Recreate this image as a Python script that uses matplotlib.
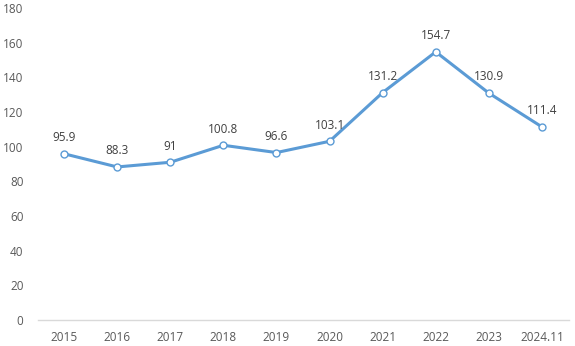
import matplotlib.pyplot as plt

# Series values
years = ['2015', '2016', '2017', '2018', '2019', '2020', '2021', '2022', '2023', '2024.11']
values = [95.9, 88.3, 91, 100.8, 96.6, 103.1, 131.2, 154.7, 130.9, 111.4]
value_labels = ['95.9', '88.3', '91', '100.8', '96.6', '103.1', '131.2', '154.7', '130.9', '111.4']
yticks = [0, 20, 40, 60, 80, 100, 120, 140, 160, 180]

plt.rcParams['font.family'] = ['Open Sans', 'DejaVu Sans']

fig = plt.figure(figsize=(5.75, 3.46), dpi=100)
ax = fig.add_axes([37.5 / 575, 1 - 320 / 346, 531 / 575, 312 / 346])

x = list(range(len(years)))
ax.plot(x, values, color='#5B9BD5', linewidth=2.2, marker='o', markersize=5,
        markerfacecolor='white', markeredgecolor='#5B9BD5', markeredgewidth=1.0,
        solid_joinstyle='round', zorder=3)

for xi, v, lab in zip(x, values, value_labels):
    ax.annotate(lab, (xi, v), xytext=(0, 7), textcoords='offset points',
                ha='center', va='bottom', fontsize=8.5, color='#404040')

ax.set_xlim(-0.5, len(years) - 0.5)
ax.set_ylim(0, 180)
ax.set_xticks(x)
ax.set_xticklabels(years)
ax.set_yticks(yticks)
ax.tick_params(axis='both', length=0, labelsize=8.5, labelcolor='#595959')
ax.tick_params(axis='y', pad=10)
ax.tick_params(axis='x', pad=8)

for side in ['left', 'right', 'top']:
    ax.spines[side].set_visible(False)
ax.spines['bottom'].set_color('#D9D9D9')
ax.spines['bottom'].set_linewidth(1.0)

fig.savefig('out.png', dpi=100)
